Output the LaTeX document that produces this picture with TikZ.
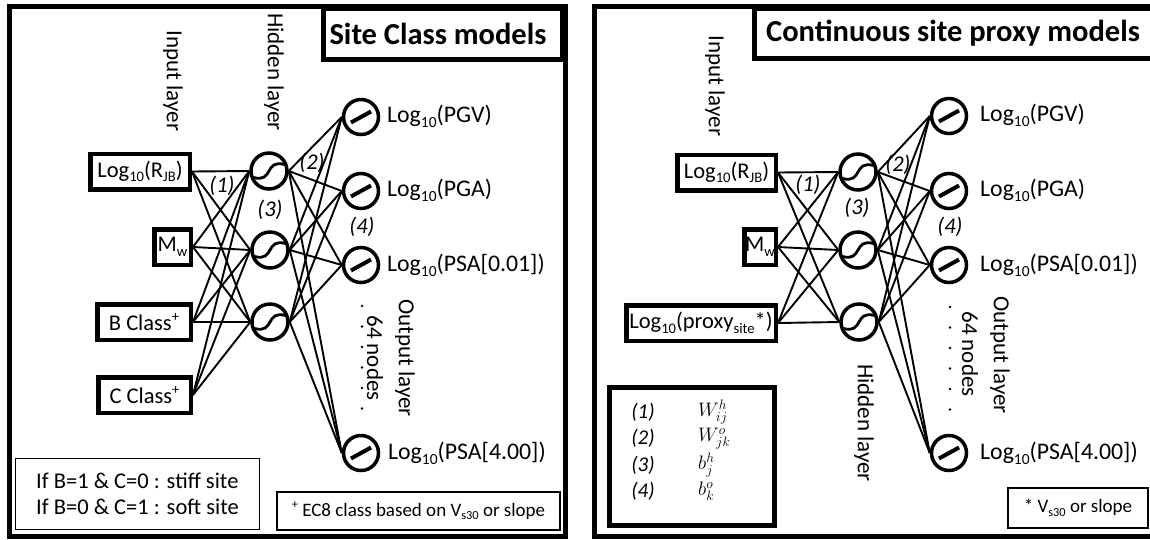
\RequirePackage{fix-cm}
\documentclass[tikz,border=0pt]{standalone}
\usepackage{fontspec}
\setmainfont{Carlito}
\makeatletter
\newcommand\subx[1]{\raisebox{-0.2em}{\fontsize{\the\dimexpr0.65\dimexpr\f@size pt\relax\relax}{0pt}\selectfont #1}}
\newcommand\supx[1]{\raisebox{0.38em}{\fontsize{\the\dimexpr0.65\dimexpr\f@size pt\relax\relax}{0pt}\selectfont #1}}
\makeatother
\newcommand\fmain{\fontsize{22.5}{26}\selectfont}
\newcommand\fout{\fontsize{23.8}{27}\selectfont}
\newcommand\frot{\fontsize{23}{27}\selectfont}
\newcommand\ftitle{\fontsize{30.5}{34}\selectfont\bfseries}
\newcommand\fnote{\fontsize{19}{22}\selectfont}
\newcommand\fleg{\fontsize{21}{24}\selectfont}
\newcommand\fmath{\fontsize{19.5}{22}\selectfont}
\begin{document}
\begin{tikzpicture}[x=1pt,y=-1pt,
 panel/.style={draw,line width=5pt},
 titlebox/.style={draw,line width=5pt,inner sep=0pt,font=\ftitle},
 inbox/.style={draw,line width=4.5pt,inner sep=0pt,font=\fmain,minimum height=35.5pt},
 hid/.style={circle,draw,line width=3.5pt,minimum size=36pt,inner sep=0pt},
 outn/.style={circle,draw,line width=3.5pt,minimum size=35pt,inner sep=0pt},
 conn/.style={line width=1.9pt},
 lbl/.style={font=\fout,inner sep=0pt},
 wlbl/.style={font=\fmain\itshape,inner sep=0pt},
 rot/.style={font=\frot,rotate=-90,inner sep=0pt},
 thinbox/.style={draw,line width=1.2pt,inner sep=0pt},
 sigm/.pic={\draw[line width=2.8pt] (-15.5,6.5) .. controls (5,12) and (-5,-12) .. (15.5,-6.5);},
 lin/.pic={\draw[line width=4pt] (-10,5.5) -- (10,-5.5);},
 dotm/.style={fill,circle,inner sep=0pt,minimum size=2.8pt},
]
\useasboundingbox (0,0) rectangle (1150,539);
% ---------------- left panel ----------------
\draw[panel] (9,6) rectangle (565,536);
\node[titlebox,minimum width=239pt,minimum height=51pt] (Ltitle) at (443,34) {};
\node[font=\ftitle,inner sep=0pt] (Ltitlet) at (438,34) {Site Class models};
\node[rot] (Linl) at (173,81) {Input layer};
\node[rot] (Lhidl) at (274,72) {Hidden layer};
\node[inbox,minimum width=99.5pt] (Lrjb) at (140,171.5) {Log\subx{10}(R\subx{JB})};
\node[inbox,minimum width=36.5pt] (Lmw) at (172.5,247) {M\subx{w}};
\node[inbox,minimum width=93.5pt] (Lbc) at (144,322) {B Class\supx{+}};
\node[inbox,minimum width=92.5pt] (Lcc) at (144.5,395) {C Class\supx{+}};
\node[hid] (Lh1) at (269,171) {};
\node[hid] (Lh2) at (270,250) {};
\node[hid] (Lh3) at (270,322) {};
\node[outn] (Lo1) at (361,117) {};
\node[outn] (Lo2) at (361,191) {};
\node[outn] (Lo3) at (361,265) {};
\node[outn] (Lo4) at (361,453) {};
\foreach \i in {Lrjb,Lmw,Lbc,Lcc} \foreach \j in {Lh1,Lh2,Lh3} \draw[conn] (\i.east) -- (\j.west);
\foreach \j in {Lh1,Lh2,Lh3} \foreach \k in {Lo1,Lo2,Lo3,Lo4} \draw[conn] (\j.east) -- (\k.west);
\foreach \j in {Lh1,Lh2,Lh3} \pic at (\j.center) {sigm};
\foreach \k in {Lo1,Lo2,Lo3,Lo4} \pic at (\k.center) {lin};
\node[wlbl] (Lw1) at (222,186) {(1)};
\node[wlbl] (Lb3) at (270,210) {(3)};
\node[wlbl] (Lw2) at (312,163) {(2)};
\node[wlbl] (Lb4) at (362,227) {(4)};
\node[lbl,anchor=west] (Lpgv) at (387,116) {Log\subx{10}(PGV)};
\node[lbl,anchor=west] (Lpga) at (387,190) {Log\subx{10}(PGA)};
\node[lbl,anchor=west] (Lpsa1) at (387,265) {Log\subx{10}(PSA[0.01])};
\node[lbl,anchor=west] (Lpsa4) at (388,453) {Log\subx{10}(PSA[4.00])};
\foreach \y [count=\n] in {306,326.5,347,367.5,388,408.5} \node[dotm] (Ld\n) at (362,\y) {};
\node[rot] (L64) at (375,358) {64 nodes};
\node[rot] (Loutl) at (405,358) {Output layer};
\node[thinbox,minimum width=244pt,minimum height=71pt,align=left,font=\fmain] (Lcond) at (137.5,494) {If B=1 \& C=0 : stiff site\\If B=0 \& C=1 : soft site};
\node[thinbox,minimum width=283pt,minimum height=38pt,font=\fnote] (Lnote) at (418.5,511) {\supx{+} EC8 class based on V\subx{s30} or slope};
% ---------------- right panel ----------------
\draw[panel] (594,6) rectangle (1170,536);
\node[titlebox,minimum width=420pt,minimum height=50pt] (Rtitle) at (964.5,33.5) {};
\node[font=\ftitle,inner sep=0pt] (Rtitlet) at (953,33) {Continuous site proxy models};
\node[rot] (Rinl) at (715,86) {Input layer};
\node[rot] (Rhidl) at (864,423) {Hidden layer};
\node[inbox,minimum width=98.5pt] (Rrjb) at (726.5,172.5) {Log\subx{10}(R\subx{JB})};
\node[inbox,minimum width=31.5pt] (Rmw) at (760,247) {M\subx{w}};
\node[inbox,minimum width=149.5pt] (Rpx) at (701,323) {Log\subx{10}(proxy\subx{site}*)};
\node[hid] (Rh1) at (858,172) {};
\node[hid] (Rh2) at (858,250) {};
\node[hid] (Rh3) at (859,322) {};
\node[outn] (Ro1) at (949,116) {};
\node[outn] (Ro2) at (949,191) {};
\node[outn] (Ro3) at (949,265) {};
\node[outn] (Ro4) at (949,453) {};
\foreach \i in {Rrjb,Rmw,Rpx} \foreach \j in {Rh1,Rh2,Rh3} \draw[conn] (\i.east) -- (\j.west);
\foreach \j in {Rh1,Rh2,Rh3} \foreach \k in {Ro1,Ro2,Ro3,Ro4} \draw[conn] (\j.east) -- (\k.west);
\foreach \j in {Rh1,Rh2,Rh3} \pic at (\j.center) {sigm};
\foreach \k in {Ro1,Ro2,Ro3,Ro4} \pic at (\k.center) {lin};
\node[wlbl] (Rw1) at (808,185) {(1)};
\node[wlbl] (Rb3) at (857,208) {(3)};
\node[wlbl] (Rw2) at (898,165) {(2)};
\node[wlbl] (Rb4) at (950,227) {(4)};
\node[lbl,anchor=west] (Rpgv) at (980,115) {Log\subx{10}(PGV)};
\node[lbl,anchor=west] (Rpga) at (980,190) {Log\subx{10}(PGA)};
\node[lbl,anchor=west] (Rpsa1) at (980,265) {Log\subx{10}(PSA[0.01])};
\node[lbl,anchor=west] (Rpsa4) at (980,453) {Log\subx{10}(PSA[4.00])};
\foreach \y [count=\n] in {307,327.5,348,368.5,389,409.5} \node[dotm] (Rd\n) at (950,\y) {};
\node[rot] (R64) at (970,354) {64 nodes};
\node[rot] (Routl) at (1000,355) {Output layer};
\node[draw,line width=4.5pt,minimum width=165pt,minimum height=138pt,inner sep=0pt] (Rleg) at (692,456.5) {};
\foreach \y/\t/\m [count=\n] in {412/(1)/{W^{h}_{ij}},438.5/(2)/{W^{o}_{jk}},465/(3)/{b^{h}_{j}},491.5/(4)/{b^{o}_{k}}} {
  \node[font=\fleg\itshape,inner sep=0pt] (Rlk\n) at (643,\y) {\t};
  \node[font=\fmath,inner sep=0pt,anchor=west] (Rlm\n) at (698,\y) {$\m$};
}
\node[thinbox,minimum width=140pt,minimum height=40pt,font=\fnote] (Rnote) at (1078,508) {* V\subx{s30} or slope};
\end{tikzpicture}
\end{document}
